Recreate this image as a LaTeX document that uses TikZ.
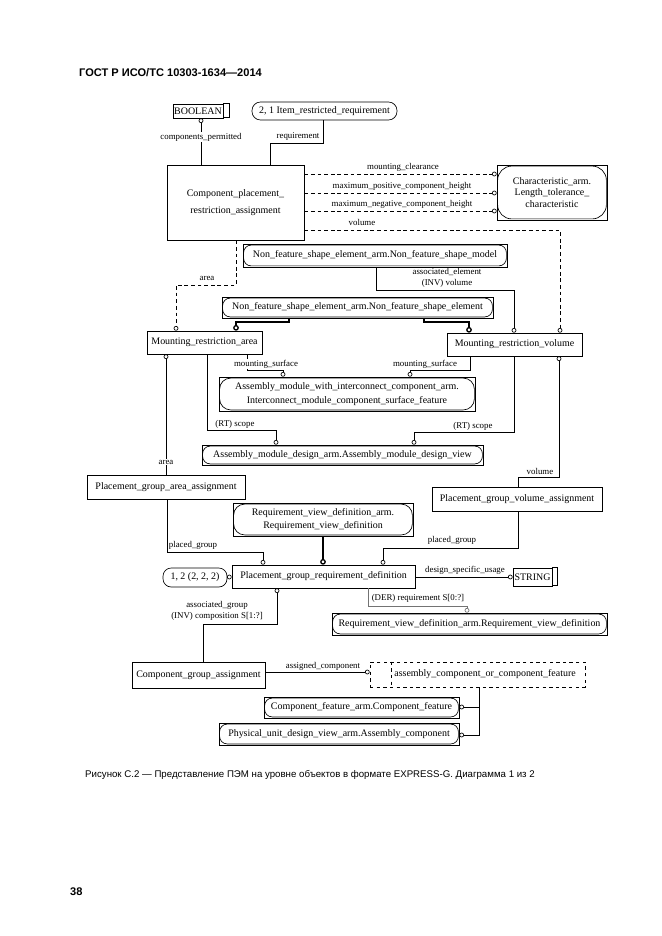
\documentclass[tikz,border=0pt]{standalone}
\usepackage{fontspec}
\setmainfont{Liberation Serif}
\newfontfamily\hsans{Liberation Sans}
\usetikzlibrary{arrows.meta}
\newcommand\pxu{0.3177mm}
\tikzset{
 ent/.style={draw, line width=0.6pt, inner sep=0pt, font=\fontsize{9}{10.5}\selectfont, align=center},
 lab/.style={font=\fontsize{8}{10.5}\selectfont, inner sep=0.5pt, align=center},
 wlab/.style={lab, fill=white},
 conn/.style={line width=0.6pt},
 dconn/.style={conn, dash pattern=on 1.2mm off 0.9mm},
 oc/.style={-{Circle[open,length=1.5mm,width=1.5mm,line width=0.6pt]}},
 toc/.style={line width=1.3pt,-{Circle[open,length=1.8mm,width=1.8mm,line width=1.2pt]}},
}
\newcommand\bx[7][]{\node[ent,minimum width={(#5-#3)*\pxu},minimum height={(#6-#4)*\pxu},#1] (#2) at ({(#3+#5)/2},{(#4+#6)/2}) {#7};}
\newcommand\ext[2][2.4mm]{\draw[line width=0.6pt, rounded corners=#1] ([xshift=0.3mm,yshift=-0.45mm]#2.north west) rectangle ([xshift=-0.3mm,yshift=0.45mm]#2.south east);}
\begin{document}
\begin{tikzpicture}[x=0.3177mm,y=-0.3177mm]
\fill[white] (0,0) rectangle (661,936);
\useasboundingbox (0,0) rectangle (661,936);

\node[anchor=west, inner sep=0pt, font=\hsans\bfseries\fontsize{10}{12}\selectfont] (hdr) at (79,73) {ГОСТ Р ИСО/ТС 10303-1634—2014};

% boxes
\bx{boolean}{173}{104}{223}{118}{BOOLEAN}
\draw[line width=0.6pt] (boolean.north east) rectangle ++(6,14);
\bx[rounded corners=2.7mm]{item}{252}{102}{397}{120}{2, 1 Item\_restricted\_requirement}
\bx{cpra}{167}{165}{304}{240}{Component\_placement\_\\[4.5pt]restriction\_assignment}
\bx{char}{497}{165}{607}{220}{Characteristic\_arm.\\Length\_tolerance\_\\characteristic}
\ext[4.5mm]{char}
\bx{nfsm}{243}{244}{507}{267}{Non\_feature\_shape\_element\_arm.Non\_feature\_shape\_model}
\ext{nfsm}
\bx{nfse}{222}{297}{493}{318}{Non\_feature\_shape\_element\_arm.Non\_feature\_shape\_element}
\ext{nfse}
\bx{mra}{147}{331}{262}{354}{Mounting\_restriction\_area}
\bx{mrv}{447}{333}{582}{356}{Mounting\_restriction\_volume}
\bx{amwi}{219}{377}{475}{411}{Assembly\_module\_with\_interconnect\_component\_arm.\\[2pt]Interconnect\_module\_component\_surface\_feature}
\ext[3.5mm]{amwi}
\bx{amdv}{202}{445}{483}{465}{Assembly\_module\_design\_arm.Assembly\_module\_design\_view}
\ext{amdv}
\bx{pgaa}{87}{475}{245}{499}{Placement\_group\_area\_assignment}
\bx{pgva}{432}{487}{602}{511}{Placement\_group\_volume\_assignment}
\bx{rvd2}{233}{503}{413}{536}{Requirement\_view\_definition\_arm.\\[1pt]Requirement\_view\_definition}
\ext[3.5mm]{rvd2}
\bx{pgrd}{232}{565}{415}{588}{Placement\_group\_requirement\_definition}
\bx[rounded corners=2.6mm]{one}{163}{568}{227}{587}{1, 2 (2, 2, 2)}
\bx{string}{513}{568}{552}{586}{STRING}
\draw[line width=0.6pt] (string.north east) rectangle ++(5,18);
\bx{rvd}{332}{613}{607}{635}{Requirement\_view\_definition\_arm.Requirement\_view\_definition}
\ext{rvd}
\bx{cga}{132}{662}{265}{688}{Component\_group\_assignment}
\bx[dashed]{acf}{370}{662}{585}{687}{\hspace*{4.8mm}assembly\_component\_or\_component\_feature}
\draw[line width=0.6pt,dashed] (acf.north west) ++(22,0) -- ++(0,25);
\bx{cf}{264}{697}{459}{718}{Component\_feature\_arm.Component\_feature}
\ext{cf}
\bx{pud}{219}{723}{459}{745}{Physical\_unit\_design\_view\_arm.Assembly\_component}
\ext{pud}

% connectors
\draw[conn,oc] (cpra.north -| 201,0) -- (boolean.south -| 201,0);
\node[wlab] (l1) at (201,137) {components\_permitted};
\draw[conn] (cpra.north -| 270,0) -- (270,143) -- (323,143) -- (item.south -| 323,0);
\node[lab] (l2) at (298,137) {requirement};

\draw[dconn,oc] (cpra.east |- 0,174) -- (char.west |- 0,174);
\draw[dconn,oc] (cpra.east |- 0,193) -- (char.west |- 0,193);
\draw[dconn,oc] (cpra.east |- 0,211) -- (char.west |- 0,211);
\node[lab] (l3) at (403,167) {mounting\_clearance};
\node[lab] (l4) at (402,186) {maximum\_positive\_component\_height};
\node[lab] (l5) at (402,204) {maximum\_negative\_component\_height};

\draw[dconn,oc] (cpra.east |- 0,230) -- (560,230) -- (mrv.north -| 560,0);
\node[lab] (l6) at (362,222) {volume};

\draw[dconn,oc] (cpra.south -| 236,0) -- (236,285) -- (176,285) -- (mra.north -| 176,0);
\node[lab] (l7) at (207,278) {area};

\draw[conn,oc] (nfsm.south -| 376,0) -- (376,290) -- (514,290) -- (mrv.north -| 514,0);
\node[lab] (l8) at (447,278) {associated\_element\\(INV) volume};

\draw[toc] (nfse.south -| 289,0) -- (289,322) -- (236,322) -- (mra.north -| 236,0);
\draw[toc] (nfse.south -| 424,0) -- (424,322) -- (469,322) -- (mrv.north -| 469,0);

\draw[conn,oc] (pgaa.north -| 166,0) -- (mra.south -| 166,0);
\node[wlab] (l9) at (166,462) {area};

\draw[conn,oc] (mra.south -| 207,0) -- (207,430) -- (276,430) -- (amdv.north -| 276,0);
\node[lab] (l10) at (235,424) {(RT) scope};

\draw[conn,oc] (mra.south -| 247,0) -- (247,370) -- (283,370) -- (amwi.north -| 283,0);
\node[wlab] (l11) at (266,364) {mounting\_surface};

\draw[conn,oc] (mrv.south -| 470,0) -- (470,370) -- (410,370) -- (amwi.north -| 410,0);
\node[lab] (l12) at (425,364) {mounting\_surface};

\draw[conn,oc] (mrv.south -| 514,0) -- (514,432) -- (414,432) -- (amdv.north -| 414,0);
\node[lab] (l13) at (473,426) {(RT) scope};

\draw[conn,oc] (pgva.north -| 518,0) -- (518,477) -- (559,477) -- (mrv.south -| 559,0);
\node[lab] (l14) at (540,471) {volume};

\draw[conn,oc] (pgaa.south -| 167,0) -- (167,552) -- (263,552) -- (pgrd.north -| 263,0);
\node[lab] (l15) at (193,545) {placed\_group};
\draw[conn,oc] (pgva.south -| 518,0) -- (518,548) -- (383,548) -- (pgrd.north -| 383,0);
\node[lab] (l16) at (452,540) {placed\_group};
\draw[toc] (rvd2.south -| 323,0) -- (pgrd.north -| 323,0);

\draw[conn,oc] (one.east |- 0,577) -- (pgrd.west |- 0,577);
\draw[conn,oc] (pgrd.east |- 0,577) -- (string.west |- 0,577);
\node[lab] (l17) at (465,570) {design\_specific\_usage};

\draw[conn,black!55,oc] (pgrd.south -| 368,0) -- (368,606) -- (467,606) -- (rvd.north -| 467,0);
\node[lab,anchor=west] (l18) at (371,598) {(DER) requirement S[0:?]};

\draw[conn,oc] (cga.north -| 203,0) -- (203,624) -- (277,624) -- (pgrd.south -| 277,0);
\node[lab] (l19) at (217,611) {associated\_group\\(INV) composition S[1:?]};

\draw[conn,oc] (cga.east |- 0,672) -- (acf.west |- 0,672);
\node[lab] (l20) at (323,666) {assigned\_component};

\coordinate (br) at (479,707);
\draw[conn,oc] (acf.south -| br) -- (479,735) -- (pud.east |- 0,735);
\draw[conn,oc] (br) -- (cf.east |- br);

\node[anchor=west, inner sep=0pt, font=\hsans\fontsize{8.75}{11}\selectfont] (cap) at (85,775) {Рисунок С.2 — Представление ПЭМ на уровне объектов в формате EXPRESS-G. Диаграмма 1 из 2};
\node[anchor=west, inner sep=0pt, font=\hsans\bfseries\fontsize{10}{12}\selectfont] (pg) at (70,892) {38};
\end{tikzpicture}
\end{document}
